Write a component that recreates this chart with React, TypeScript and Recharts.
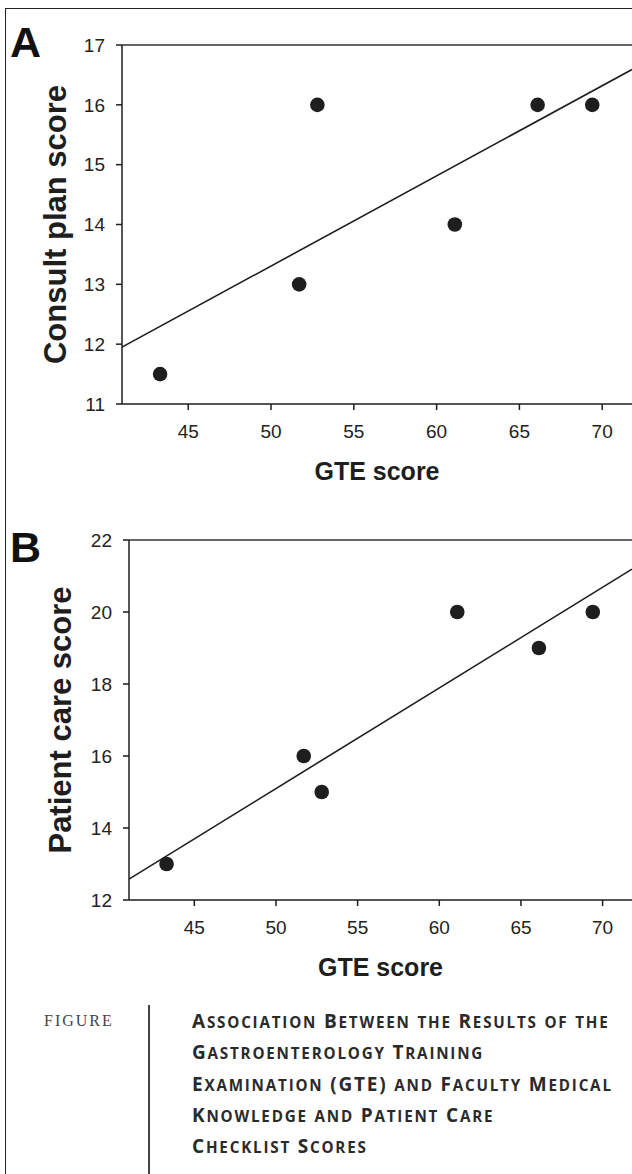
import React from "react";
import {
  ScatterChart,
  Scatter,
  XAxis,
  YAxis,
  ReferenceLine,
} from "recharts";

// GTE score of each trainee (same six trainees in both panels)
const gteScores = [43.3, 51.7, 52.8, 61.1, 66.1, 69.4];
const consultPlanScores = [11.5, 13, 16, 14, 16, 16];
const patientCareScores = [13, 16, 15, 20, 19, 20];

// fitted regression lines, read at the two plot edges
const fitX = [41, 71.8];
const consultFit = [11.95, 16.59];
const patientFit = [12.58, 21.19];

const xDomain = [41, 71.8];
const xTicks = [45, 50, 55, 60, 65, 70];
const consultTicks = [11, 12, 13, 14, 15, 16, 17];
const patientTicks = [12, 14, 16, 18, 20, 22];

const captionLines = [
  "Association Between the Results of the",
  "Gastroenterology Training",
  "Examination (GTE) and Faculty Medical",
  "Knowledge and Patient Care",
  "Checklist Scores",
];

const SANS = "'Liberation Sans', Arial, Helvetica, sans-serif";
const INK = "#1e1e1e";

const toPoints = (xs: number[], ys: number[]) =>
  xs.map((x, i) => ({ x, y: ys[i] }));

// lowercase runs become smaller capitals
const smallCaps = (text: string) =>
  text.split(/([a-z]+)/).map((part, i) =>
    /^[a-z]+$/.test(part) ? (
      <span key={i} style={{ fontSize: "0.8em" }}>
        {part.toUpperCase()}
      </span>
    ) : (
      part
    )
  );

const Dot = (props: any) => (
  <circle cx={props.cx} cy={props.cy} r={7.3} fill={INK} />
);

interface PanelProps {
  top: number;
  plotHeight: number;
  yAxisWidth: number;
  yDomain: number[];
  yTicks: number[];
  yLabel: string;
  yLabelX: number;
  ys: number[];
  fit: number[];
}

function Panel({
  top,
  plotHeight,
  yAxisWidth,
  yDomain,
  yTicks,
  yLabel,
  yLabelX,
  ys,
  fit,
}: PanelProps) {
  const marginTop = 45;
  const xAxisHeight = 80;
  return (
    <div style={{ position: "absolute", left: 0, top }}>
      <ScatterChart
        width={632}
        height={marginTop + plotHeight + xAxisHeight}
        margin={{ top: marginTop, right: 0, bottom: 0, left: 0 }}
      >
        <XAxis
          type="number"
          dataKey="x"
          domain={xDomain}
          ticks={xTicks}
          allowDataOverflow
          height={xAxisHeight}
          tickSize={6}
          tickMargin={15}
          axisLine={{ stroke: INK, strokeWidth: 1.5 }}
          tickLine={{ stroke: INK, strokeWidth: 1.5 }}
          tick={{ fontSize: 19, fill: "#222", fontFamily: SANS }}
          label={{
            value: "GTE score",
            position: "insideTop",
            offset: 58,
            fontSize: 25,
            fontWeight: 700,
            fill: INK,
            fontFamily: SANS,
          }}
        />
        <YAxis
          type="number"
          dataKey="y"
          domain={yDomain}
          ticks={yTicks}
          allowDataOverflow
          width={yAxisWidth}
          tickSize={6}
          tickMargin={11}
          axisLine={{ stroke: INK, strokeWidth: 1.5 }}
          tickLine={{ stroke: INK, strokeWidth: 1.5 }}
          tick={{ fontSize: 19, fill: "#222", fontFamily: SANS }}
          label={{
            value: yLabel,
            angle: -90,
            position: "insideLeft",
            offset: yLabelX,
            fontSize: 31,
            fontWeight: 700,
            fill: INK,
            fontFamily: SANS,
            style: { textAnchor: "middle" },
          }}
        />
        <ReferenceLine y={yDomain[1]} stroke="#666" strokeWidth={2} />
        <Scatter
          data={toPoints(fitX, fit)}
          line={{ stroke: INK, strokeWidth: 1.6 }}
          shape={() => <g />}
          legendType="none"
          isAnimationActive={false}
        />
        <Scatter
          data={toPoints(gteScores, ys)}
          shape={Dot}
          isAnimationActive={false}
        />
      </ScatterChart>
    </div>
  );
}

export default function App() {
  return (
    <div
      style={{
        position: "absolute",
        left: 0,
        top: 0,
        width: 632,
        height: 1174,
        overflow: "hidden",
        background: "#fff",
      }}
    >
      {/* page frame: top and left rules */}
      <div
        style={{
          position: "absolute",
          left: 5,
          top: 8,
          right: -4,
          bottom: -4,
          borderTop: "1.5px solid #222",
          borderLeft: "1.5px solid #222",
        }}
      />

      <Panel
        top={0}
        plotHeight={359}
        yAxisWidth={122}
        yDomain={[11, 17]}
        yTicks={consultTicks}
        yLabel="Consult plan score"
        yLabelX={55}
        ys={consultPlanScores}
        fit={consultFit}
      />
      <Panel
        top={495}
        plotHeight={360}
        yAxisWidth={129}
        yDomain={[12, 22]}
        yTicks={patientTicks}
        yLabel="Patient care score"
        yLabelX={60}
        ys={patientCareScores}
        fit={patientFit}
      />

      <svg
        width={632}
        height={600}
        style={{ position: "absolute", left: 0, top: 0, pointerEvents: "none" }}
      >
        <text x={10} y={57} fontSize={43} fontWeight={700} fontFamily={SANS} fill="#111">
          A
        </text>
        <text x={10} y={562} fontSize={43} fontWeight={700} fontFamily={SANS} fill="#111">
          B
        </text>
      </svg>

      {/* caption */}
      <div
        style={{
          position: "absolute",
          left: 148,
          top: 1005,
          width: 1.5,
          height: 175,
          background: "#444",
        }}
      />
      <div
        style={{
          position: "absolute",
          left: 44,
          top: 1006,
          lineHeight: "30px",
          fontSize: 16,
          letterSpacing: 2,
          fontFamily: "'Liberation Serif', 'Times New Roman', serif",
          color: "#444",
        }}
      >
        FIGURE
      </div>
      <div
        style={{
          position: "absolute",
          left: 192,
          top: 1006,
          lineHeight: "30.3px",
          fontSize: 19,
          fontWeight: 700,
          letterSpacing: 1.8,
          fontFamily: "'Open Sans', Lato, sans-serif",
          color: "#2a2a2a",
          whiteSpace: "nowrap",
        }}
      >
        {captionLines.map((line) => (
          <div key={line}>{smallCaps(line)}</div>
        ))}
      </div>
    </div>
  );
}
